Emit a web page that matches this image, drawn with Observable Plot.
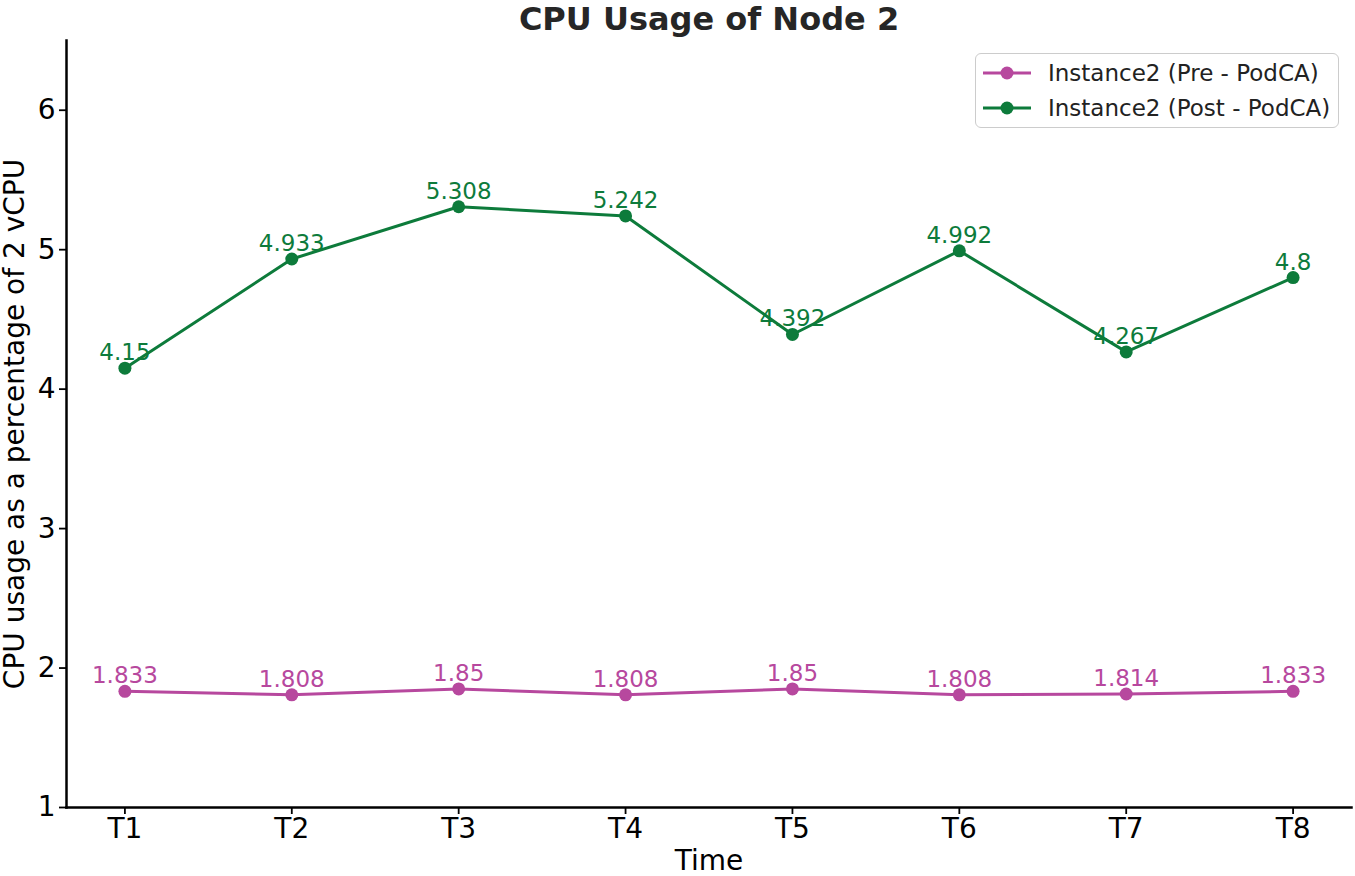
<!DOCTYPE html>
<html>
<head>
<meta charset="utf-8">
<script src="https://cdn.jsdelivr.net/npm/d3@7"></script>
<script src="https://cdn.jsdelivr.net/npm/@observablehq/plot@0.6"></script>
<style>
  html, body { margin: 0; padding: 0; background: #fff; }
  #wrap { position: relative; width: 1355px; height: 876px; font-family: "DejaVu Sans", sans-serif; }
  #legend { position: absolute; left: 975px; top: 53px; width: 364px; height: 75px; border: 1.5px solid #cccccc; border-radius: 6px; background: rgba(255,255,255,0.85); box-sizing: border-box; }
  .item { position: absolute; left: 6px; height: 30px; display: flex; align-items: center; font-size: 23px; color: #222; white-space: nowrap; }
  .item svg { margin-right: 16px; flex: none; }
</style>
</head>
<body>
<div id="wrap"></div>
<script>
const times = ["T1", "T2", "T3", "T4", "T5", "T6", "T7", "T8"];
const preValues = [1.833, 1.808, 1.85, 1.808, 1.85, 1.808, 1.814, 1.833];
const postValues = [4.15, 4.933, 5.308, 5.242, 4.392, 4.992, 4.267, 4.8];
const seriesNames = ["Instance2 (Pre - PodCA)", "Instance2 (Post - PodCA)"];
const seriesColors = ["#b7489e", "#0d7b3b"];
const yTicks = [1, 2, 3, 4, 5, 6];

const rows = [
  ...times.map((t, i) => ({time: t, value: preValues[i], series: seriesNames[0]})),
  ...times.map((t, i) => ({time: t, value: postValues[i], series: seriesNames[1]}))
];

const chart = Plot.plot({
  width: 1355,
  height: 876,
  marginLeft: 66,
  marginRight: 4,
  marginTop: 40,
  marginBottom: 69,
  style: {fontFamily: "DejaVu Sans, sans-serif", background: "#fff", overflow: "visible"},
  x: {type: "point", domain: times, padding: 0.35, round: false},
  y: {domain: [1, 6.5]},
  color: {domain: seriesNames, range: seriesColors},
  marks: [
    Plot.frame({anchor: "left", stroke: "#000", strokeWidth: 2.5}),
    Plot.frame({anchor: "bottom", stroke: "#000", strokeWidth: 2.5}),
    Plot.axisX({tickSize: 7, tickPadding: 4, fontSize: 28, label: "Time", labelAnchor: "center", labelOffset: 62, color: "#000", strokeWidth: 1.8}),
    Plot.axisY({ticks: yTicks, tickFormat: d3.format("d"), tickSize: 7, tickPadding: 4, fontSize: 28, label: "CPU usage as a percentage of 2 vCPU", labelAnchor: "center", labelArrow: "none", labelOffset: 62, color: "#000", strokeWidth: 1.8}),
    Plot.line(rows, {x: "time", y: "value", z: "series", stroke: "series", strokeWidth: 3}),
    Plot.dot(rows, {x: "time", y: "value", fill: "series", r: 6.5, stroke: null}),
    Plot.text(rows, {x: "time", y: "value", text: d => String(d.value), fill: "series", fontSize: 23, lineAnchor: "bottom", dy: -8}),
    Plot.text(["CPU Usage of Node 2"], {frameAnchor: "top", text: d => d, dy: -33, lineAnchor: "top", fontSize: 32, fontWeight: "bold", fill: "#262626"})
  ]
});

const wrap = document.getElementById("wrap");
wrap.appendChild(chart);

const legend = document.createElement("div");
legend.id = "legend";
seriesNames.forEach((name, i) => {
  const item = document.createElement("div");
  item.className = "item";
  item.style.top = (4 + i * 35) + "px";
  item.innerHTML = `<svg width="50" height="20"><line x1="1" y1="10" x2="49" y2="10" stroke="${seriesColors[i]}" stroke-width="3"/><circle cx="25" cy="10" r="6.5" fill="${seriesColors[i]}"/></svg><span>${name}</span>`;
  legend.appendChild(item);
});
wrap.appendChild(legend);
</script>
</body>
</html>
